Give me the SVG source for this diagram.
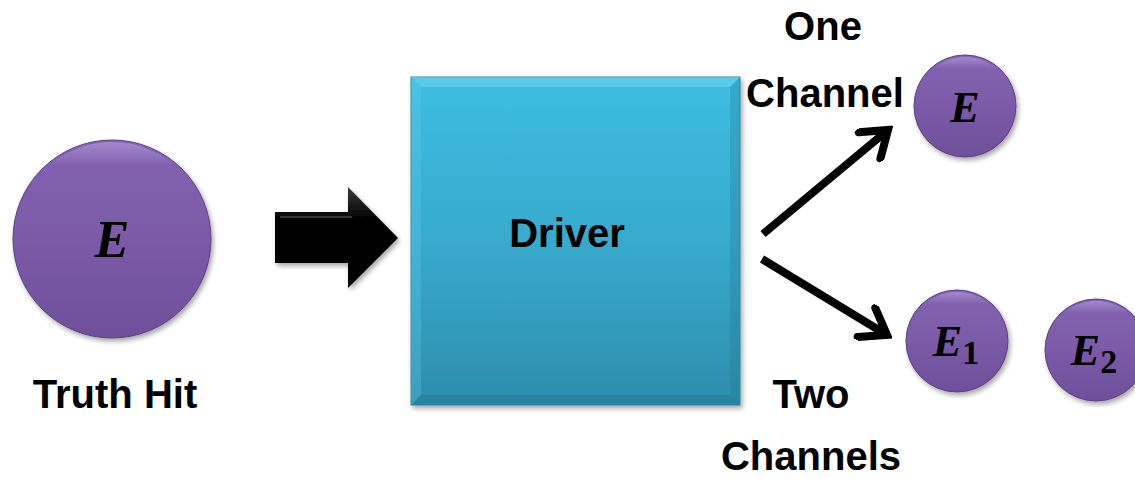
<svg xmlns="http://www.w3.org/2000/svg" width="1135" height="479" viewBox="0 0 1135 479">
<defs>
<linearGradient id="purp" x1="0" y1="0" x2="0" y2="1">
<stop offset="0" stop-color="#8464B2"/>
<stop offset="0.5" stop-color="#7B5AA8"/>
<stop offset="1" stop-color="#6E4F9A"/>
</linearGradient>
<linearGradient id="purpTop" x1="0" y1="0" x2="0" y2="1">
<stop offset="0" stop-color="#A88CD2" stop-opacity="0.9"/>
<stop offset="0.12" stop-color="#A88CD2" stop-opacity="0"/>
</linearGradient>
<linearGradient id="blue" x1="0" y1="0" x2="0" y2="1">
<stop offset="0" stop-color="#3DBDE2"/>
<stop offset="0.5" stop-color="#37AACD"/>
<stop offset="1" stop-color="#2E8DAD"/>
</linearGradient>
<linearGradient id="blk" x1="0" y1="0" x2="0" y2="1">
<stop offset="0" stop-color="#3a3a3a"/>
<stop offset="0.3" stop-color="#050505"/>
<stop offset="1" stop-color="#000"/>
</linearGradient>
<filter id="sh" x="-20%" y="-20%" width="140%" height="140%">
<feDropShadow dx="2" dy="3" stdDeviation="2.5" flood-color="#000" flood-opacity="0.35"/>
</filter>
<marker id="open" viewBox="-30 -20 36 40" refX="0" refY="0" markerWidth="36" markerHeight="40" markerUnits="userSpaceOnUse" orient="auto">
<path d="M-24 -17 L0 0 L-24 17" fill="none" stroke="#000" stroke-width="8" stroke-linecap="round" stroke-linejoin="miter"/>
</marker>
</defs>
<style>
.lbl{font-family:"Liberation Sans",Arial,sans-serif;font-weight:bold;font-size:40px;fill:#000;text-anchor:middle}
.math{font-family:"Liberation Serif","Times New Roman",serif;font-weight:bold;font-style:italic;fill:#000;text-anchor:middle}
.sub{font-style:normal}
.circ{fill:url(#purp);stroke:#5a3f82;stroke-width:1;filter:url(#sh)}
.conn{stroke:#000;stroke-width:8;fill:none;marker-end:url(#open)}
</style>

<g id="truth-hit">
<circle class="circ" cx="112" cy="239" r="99"/>
<circle cx="112" cy="239" r="97" fill="url(#purpTop)"/>
<text class="math" x="112" y="257" font-size="52">E</text>
<text class="lbl" x="115" y="408">Truth Hit</text>
</g>

<g id="block-arrow">
<path d="M275 212 L348 212 L348 187 L398 238 L348 288 L348 263 L275 263 Z" fill="url(#blk)" filter="url(#sh)"/>
<path d="M280 217 L352 217" stroke="#555" stroke-width="2" opacity="0.6"/>
</g>

<g id="driver">
<rect x="411" y="77" width="329" height="328" fill="url(#blue)" stroke="#2a8aa8" stroke-width="1" filter="url(#sh)"/>
<path d="M411 77 L740 77 L730 87 L421 87 Z" fill="#6fd3ee" opacity="0.6"/>
<path d="M411 405 L740 405 L730 395 L421 395 Z" fill="#1f6f8a" opacity="0.35"/>
<path d="M740 77 L740 405 L730 395 L730 87 Z" fill="#1f6f8a" opacity="0.25"/>
<path d="M411 77 L411 405 L421 395 L421 87 Z" fill="#6fd3ee" opacity="0.25"/>
<text class="lbl" x="567" y="247">Driver</text>
</g>

<g id="one-channel">
<text class="lbl" x="823" y="40">One</text>
<text class="lbl" x="825" y="107">Channel</text>
<circle class="circ" cx="965" cy="106" r="51"/>
<circle cx="965" cy="106" r="49" fill="url(#purpTop)"/>
<text class="math" x="965" y="122" font-size="44">E</text>
</g>

<g id="two-channels">
<text class="lbl" x="811" y="408">Two</text>
<text class="lbl" x="811" y="470">Channels</text>
<g id="e1">
<circle class="circ" cx="957" cy="341" r="51"/>
<circle cx="957" cy="341" r="49" fill="url(#purpTop)"/>
<text class="math" x="956" y="356" font-size="44">E<tspan class="sub" font-size="34" dy="8">1</tspan></text>
</g>
<g id="e2">
<circle class="circ" cx="1096" cy="350" r="51"/>
<circle cx="1096" cy="350" r="49" fill="url(#purpTop)"/>
<text class="math" x="1094" y="365" font-size="44">E<tspan class="sub" font-size="34" dy="8">2</tspan></text>
</g>
</g>

<g id="connectors">
<line class="conn" x1="763" y1="234" x2="888" y2="130"/>
<line class="conn" x1="762" y1="259" x2="887" y2="335"/>
</g>
</svg>
